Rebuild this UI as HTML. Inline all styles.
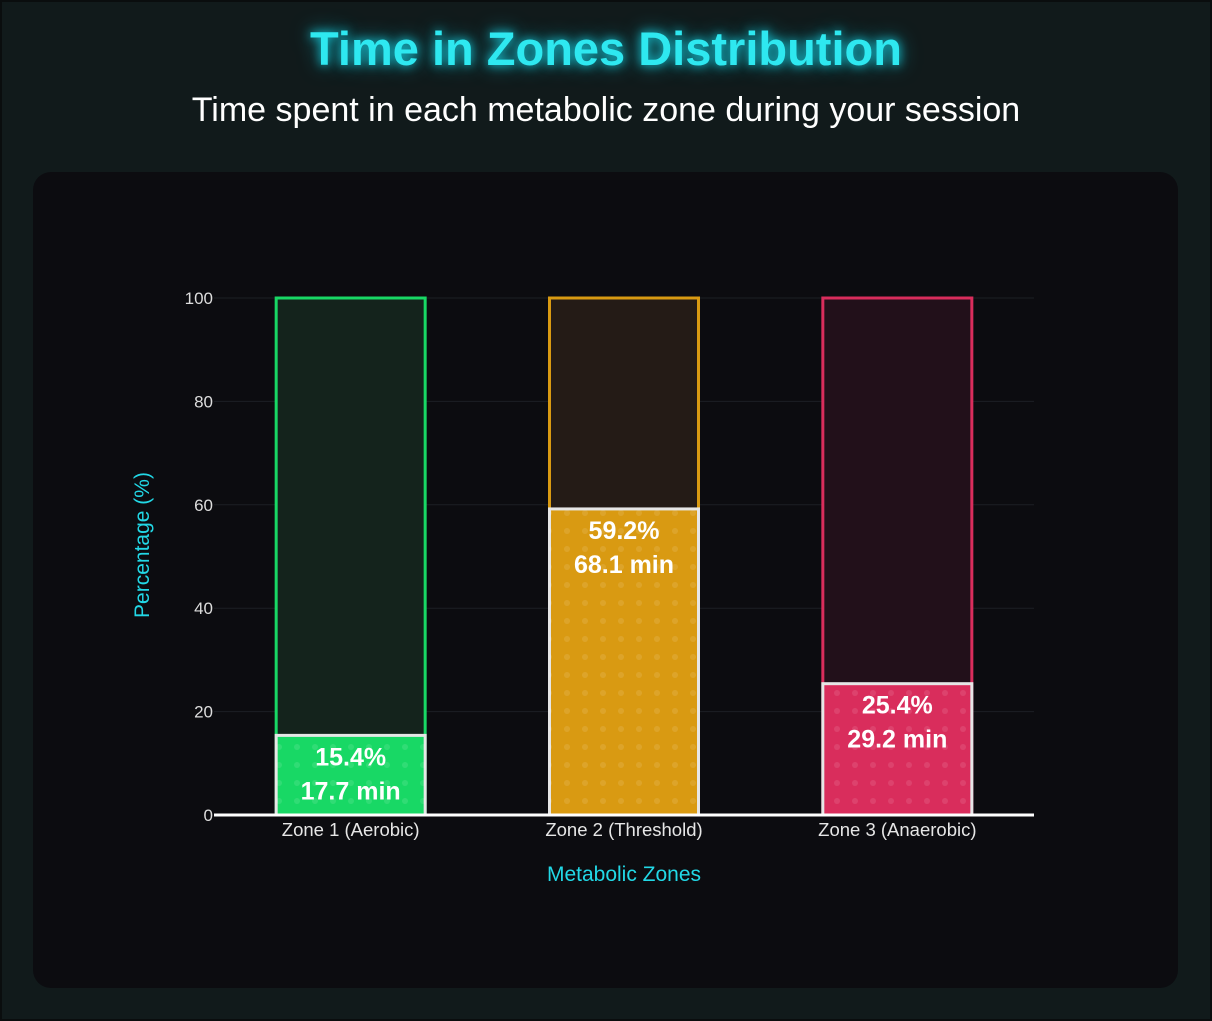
<!DOCTYPE html>
<html><head><meta charset="utf-8"><style>
html,body{margin:0;padding:0;width:1212px;height:1021px;overflow:hidden;background:#121a1b;font-family:"Liberation Sans",sans-serif}
#frame{position:absolute;left:0;top:0;width:1208px;height:1017px;border:2px solid #0a0d0e;background:#111a1b}
h1{position:absolute;left:0;width:1212px;top:21px;margin:0;text-align:center;font-size:47px;font-weight:bold;color:#2ee8f0;text-shadow:0 0 10px #17c8d8,0 0 20px #0e8a96}
#sub{position:absolute;left:0;width:1212px;top:91px;text-align:center;font-size:34px;color:#fff}
#card{position:absolute;left:33px;top:172px;width:1145px;height:816px;border-radius:18px;background:#0c0c10}
svg{position:absolute;left:0;top:0}
</style></head><body>
<div id="frame"></div>
<h1>Time in Zones Distribution</h1>
<div id="sub">Time spent in each metabolic zone during your session</div>
<div id="card"></div>
<svg id="chart" width="1212" height="1021">
<defs>
<pattern id="dots" width="18" height="18" patternUnits="userSpaceOnUse"><circle cx="9" cy="9" r="3" fill="rgba(255,255,255,0.1)"/></pattern>
</defs>
</svg>
<script>
const categories=["Zone 1 (Aerobic)","Zone 2 (Threshold)","Zone 3 (Anaerobic)"];
const percentValues=[15.4,59.2,25.4];
const minuteValues=[17.7,68.1,29.2];
const yTicks=[0,20,40,60,80,100];
const colors=["#18d865","#d99a12","#d92d5c"];
const bgColors=["#14231c","#241b16","#22101a"];
const NS="http://www.w3.org/2000/svg";
const svg=document.getElementById('chart');
const x0=214,x1=1034,yBase=815,yTop=298;
const y=v=>yBase-(v/100)*(yBase-yTop);
const band=(x1-x0)/categories.length;
const xc=i=>x0+band*(i+0.5);
const bw=149;
function mk(t,a){const e=document.createElementNS(NS,t);for(const k in a)e.setAttribute(k,a[k]);svg.appendChild(e);return e;}
yTicks.forEach(t=>{
 const g=mk('line',{x1:x0,x2:x1,y1:y(t),y2:y(t),stroke:'#1c1f24','stroke-width':1});
 
 
 const l=mk('text',{x:x0-1,y:y(t)+6,'text-anchor':'end','font-size':17,fill:'#ddd'});
 l.textContent=t;
 
 
});
categories.forEach((c,i)=>{
 const L=xc(i)-bw/2;
 const bg=mk('rect',{x:L,y:y(100),width:bw,height:yBase-y(100),fill:bgColors[i],stroke:colors[i],'stroke-width':3});
 
 
 const b=mk('rect',{x:L,y:y(percentValues[i]),width:bw,height:yBase-y(percentValues[i]),fill:colors[i],stroke:'#e6e6e6','stroke-width':3});
 
 
 mk('rect',{x:L,y:y(percentValues[i]),width:bw,height:yBase-y(percentValues[i]),fill:'url(#dots)'});
 const t1=mk('text',{x:xc(i),y:y(percentValues[i])+30,'text-anchor':'middle','font-size':25,'font-weight':'bold',fill:'#fff'});
 t1.textContent=percentValues[i].toFixed(1)+'%';
 
 
 const t2=mk('text',{x:xc(i),y:y(percentValues[i])+64,'text-anchor':'middle','font-size':25,'font-weight':'bold',fill:'#fff'});
 t2.textContent=minuteValues[i].toFixed(1)+' min';
 
 
 const xl=mk('text',{x:xc(i),y:yBase+21,'text-anchor':'middle','font-size':18.5,fill:'#e6e6e6'});
 xl.textContent=c;
 
 
});
const ax=mk('line',{x1:x0,x2:x1,y1:yBase,y2:yBase,stroke:'#fff','stroke-width':3});


const xt=mk('text',{x:624,y:881,'text-anchor':'middle','font-size':21,fill:'#22d8e6'});
xt.textContent='Metabolic Zones';


const yt=mk('text',{x:0,y:0,'text-anchor':'middle','font-size':21,fill:'#22d8e6',transform:'translate(149,545) rotate(-90)'});
yt.textContent='Percentage (%)';


</script>
</body></html>
